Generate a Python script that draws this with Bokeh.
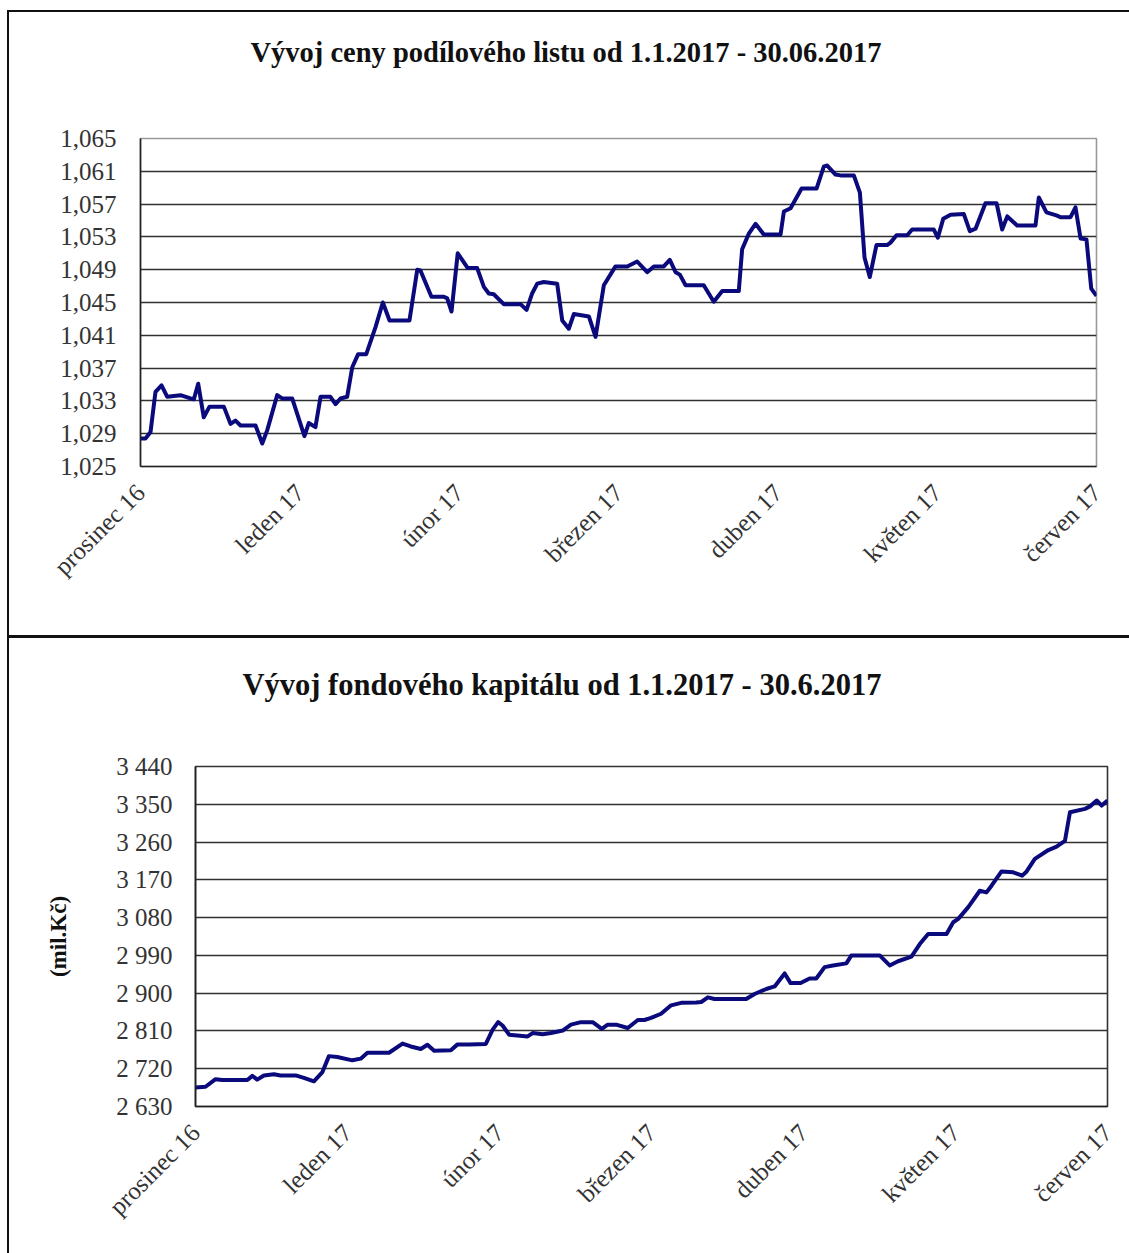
import math
from bokeh.plotting import figure
from bokeh.models import FixedTicker, ColumnDataSource, Range1d, Title
from bokeh.embed import file_html
from bokeh.resources import INLINE

# ---------------- data ----------------
months = ["prosinec 16", "leden 17", "únor 17", "březen 17", "duben 17", "květen 17", "červen 17"]
month_pos = [0, 1, 2, 3, 4, 5, 6]

price_title = "Vývoj ceny podílového listu od 1.1.2017 - 30.06.2017"
price_t = [0.000, 0.031, 0.063, 0.094, 0.132, 0.168, 0.251, 0.314, 0.335, 0.362,
           0.397, 0.433, 0.523, 0.565, 0.596, 0.628, 0.722, 0.764, 0.795, 0.858,
           0.889, 0.952, 1.029, 1.056, 1.098, 1.130, 1.192, 1.224, 1.255, 1.297,
           1.329, 1.366, 1.417, 1.475, 1.521, 1.563, 1.688, 1.737, 1.757, 1.826,
           1.904, 1.925, 1.952, 1.991, 2.054, 2.113, 2.155, 2.186, 2.217, 2.280,
           2.385, 2.423, 2.458, 2.490, 2.531, 2.615, 2.647, 2.688, 2.720, 2.814,
           2.856, 2.908, 2.981, 3.055, 3.117, 3.180, 3.222, 3.284, 3.322, 3.358,
           3.385, 3.421, 3.535, 3.598, 3.651, 3.755, 3.776, 3.818, 3.860, 3.912,
           4.017, 4.038, 4.080, 4.149, 4.243, 4.289, 4.310, 4.362, 4.393, 4.477,
           4.515, 4.544, 4.577, 4.619, 4.686, 4.707, 4.745, 4.812, 4.843, 4.979,
           5.004, 5.038, 5.084, 5.167, 5.205, 5.241, 5.303, 5.373, 5.408, 5.440,
           5.502, 5.617, 5.638, 5.686, 5.753, 5.774, 5.837, 5.868, 5.900, 5.937,
           5.967, 6.000]
price_v = [1.0284, 1.0284, 1.0292, 1.0341, 1.0349, 1.0335, 1.0337, 1.0333, 1.0332, 1.0351,
           1.0310, 1.0323, 1.0323, 1.0302, 1.0306, 1.0300, 1.0300, 1.0278, 1.0294, 1.0337,
           1.0333, 1.0333, 1.0287, 1.0303, 1.0298, 1.0335, 1.0335, 1.0326, 1.0333, 1.0335,
           1.0371, 1.0387, 1.0387, 1.0420, 1.0450, 1.0428, 1.0428, 1.0490, 1.0489, 1.0457,
           1.0457, 1.0455, 1.0439, 1.0510, 1.0492, 1.0492, 1.0469, 1.0461, 1.0460, 1.0448,
           1.0448, 1.0441, 1.0461, 1.0473, 1.0475, 1.0473, 1.0428, 1.0418, 1.0436, 1.0433,
           1.0408, 1.0471, 1.0494, 1.0494, 1.0500, 1.0487, 1.0494, 1.0494, 1.0502, 1.0487,
           1.0484, 1.0471, 1.0471, 1.0451, 1.0464, 1.0464, 1.0515, 1.0534, 1.0546, 1.0533,
           1.0533, 1.0561, 1.0565, 1.0589, 1.0589, 1.0616, 1.0617, 1.0606, 1.0605, 1.0605,
           1.0584, 1.0505, 1.0481, 1.0520, 1.0520, 1.0523, 1.0532, 1.0532, 1.0539, 1.0539,
           1.0529, 1.0552, 1.0557, 1.0558, 1.0537, 1.0540, 1.0571, 1.0571, 1.0539, 1.0555,
           1.0544, 1.0544, 1.0578, 1.0560, 1.0556, 1.0554, 1.0554, 1.0566, 1.0528, 1.0527,
           1.0467, 1.0458]
price_ticks = [1.025, 1.029, 1.033, 1.037, 1.041, 1.045, 1.049, 1.053, 1.057, 1.061, 1.065]
price_labels = ["1,025", "1,029", "1,033", "1,037", "1,041", "1,045", "1,049", "1,053",
                "1,057", "1,061", "1,065"]

cap_title = "Vývoj fondového kapitálu od 1.1.2017 - 30.6.2017"
cap_axis_label = "(mil.Kč)"
cap_t = [0.000, 0.066, 0.132, 0.176, 0.341, 0.374, 0.406, 0.450, 0.516, 0.560,
         0.659, 0.713, 0.779, 0.835, 0.878, 0.933, 1.032, 1.087, 1.131, 1.273,
         1.362, 1.416, 1.482, 1.526, 1.570, 1.680, 1.724, 1.800, 1.910, 1.955,
         1.991, 2.020, 2.064, 2.185, 2.218, 2.284, 2.339, 2.416, 2.470, 2.536,
         2.613, 2.673, 2.712, 2.767, 2.844, 2.910, 2.953, 2.997, 3.063, 3.129,
         3.195, 3.294, 3.327, 3.371, 3.414, 3.623, 3.678, 3.755, 3.810, 3.876,
         3.915, 3.981, 4.040, 4.084, 4.139, 4.194, 4.282, 4.315, 4.501, 4.567,
         4.622, 4.710, 4.765, 4.820, 4.941, 4.985, 5.018, 5.084, 5.160, 5.204,
         5.237, 5.303, 5.380, 5.439, 5.468, 5.522, 5.611, 5.665, 5.720, 5.753,
         5.852, 5.885, 5.929, 5.962, 6.000]
cap_v = [2675, 2677, 2695, 2693, 2693, 2703, 2694, 2704, 2707, 2704,
         2704, 2698, 2690, 2712, 2750, 2748, 2740, 2744, 2758, 2758,
         2780, 2773, 2767, 2777, 2763, 2764, 2778, 2778, 2779, 2813,
         2831, 2823, 2801, 2797, 2805, 2802, 2805, 2811, 2825, 2831,
         2831, 2815, 2825, 2825, 2817, 2836, 2836, 2841, 2851, 2871,
         2877, 2878, 2879, 2890, 2886, 2886, 2898, 2910, 2916, 2947,
         2924, 2924, 2935, 2935, 2962, 2966, 2971, 2990, 2990, 2966,
         2976, 2987, 3017, 3041, 3041, 3069, 3077, 3105, 3144, 3140,
         3156, 3190, 3188, 3180, 3190, 3220, 3241, 3249, 3263, 3331,
         3339, 3345, 3359, 3347, 3359]
cap_ticks = [2630, 2720, 2810, 2900, 2990, 3080, 3170, 3260, 3350, 3440]
cap_labels = ["2 630", "2 720", "2 810", "2 900", "2 990", "3 080", "3 170", "3 260",
              "3 350", "3 440"]

# ---------------- styling helpers ----------------
SERIF = "Liberation Serif"
LINE_COLOR = "#0a0a7c"


def base_fig(width, height, left, right, top, bottom, x_end, y_start, y_end):
    p = figure(width=width, height=height, output_backend="svg", toolbar_location=None,
               min_border_left=left, min_border_right=right, min_border_top=top,
               min_border_bottom=bottom, x_range=Range1d(0, x_end),
               y_range=Range1d(y_start, y_end))
    p.background_fill_color = "white"
    p.border_fill_color = "white"
    p.xgrid.visible = False
    p.ygrid.grid_line_color = "#303030"
    p.ygrid.grid_line_width = 1.6
    for ax in (p.xaxis[0], p.yaxis[0]):
        ax.axis_line_color = "#222222"
        ax.axis_line_width = 1.6
        ax.major_tick_line_color = None
        ax.minor_tick_line_color = None
        ax.major_label_text_font = SERIF
        ax.major_label_text_font_size = "25px"
        ax.major_label_text_color = "#333333"
    p.xaxis.ticker = FixedTicker(ticks=month_pos)
    p.xaxis.major_label_overrides = {m: lab for m, lab in zip(month_pos, months)}
    p.xaxis.major_label_orientation = math.pi / 4
    p.xaxis.major_label_standoff = 16
    return p


def set_title(p, text, offset, size, gap):
    p.title.text = text
    p.title.text_font = SERIF
    p.title.text_font_size = size
    p.title.text_font_style = "bold"
    p.title.text_color = "#111111"
    p.title.align = "left"
    p.title.offset = offset
    p.title.standoff = 0
    # empty spacer panel between the title and the plot frame
    p.add_layout(Title(text=" ", text_font_size="1px", standoff=gap), "above")


# ---------------- chart 1 ----------------
p1 = base_fig(1122, 628, 131, 35, 126, 174, 6, price_ticks[0], price_ticks[-1])
set_title(p1, price_title, 110, "28.5px", 68)
p1.yaxis.ticker = FixedTicker(ticks=price_ticks)
p1.yaxis.major_label_overrides = {t: lab for t, lab in zip(price_ticks, price_labels)}
p1.yaxis.major_label_standoff = 18
p1.ygrid.ticker = FixedTicker(ticks=price_ticks[1:-1])
p1.outline_line_color = "#9a9a9a"
p1.outline_line_width = 1.6
src1 = ColumnDataSource(data=dict(t=price_t, v=price_v))
p1.line(x="t", y="v", source=src1, line_color=LINE_COLOR, line_width=4, line_join="round")
p1.margin = (10, 0, 0, 7)
p1.styles = {"border-left": "2px solid #111", "border-top": "2px solid #111",
             "border-bottom": "3px solid #111", "box-sizing": "border-box"}

# ---------------- chart 2 ----------------
p2 = base_fig(1122, 615, 186, 24, 128, 147, 6, cap_ticks[0], cap_ticks[-1])
set_title(p2, cap_title, 47, "30.5px", 62)
p2.yaxis.ticker = FixedTicker(ticks=cap_ticks)
p2.yaxis.major_label_overrides = {t: lab for t, lab in zip(cap_ticks, cap_labels)}
p2.yaxis.major_label_standoff = 17
p2.ygrid.ticker = FixedTicker(ticks=cap_ticks[1:])
p2.yaxis.axis_label = cap_axis_label
p2.yaxis.axis_label_text_font = SERIF
p2.yaxis.axis_label_text_font_size = "23px"
p2.yaxis.axis_label_text_font_style = "bold"
p2.yaxis.axis_label_text_color = "#111111"
p2.yaxis.axis_label_standoff = 42
p2.outline_line_color = "#333333"
p2.outline_line_width = 1.6
src2 = ColumnDataSource(data=dict(t=cap_t, v=cap_v))
p2.line(x="t", y="v", source=src2, line_color=LINE_COLOR, line_width=4, line_join="round")
p2.margin = (0, 0, 0, 7)
p2.styles = {"border-left": "2px solid #111", "box-sizing": "border-box"}

open("out.html", "w").write(file_html([p1, p2], INLINE))
